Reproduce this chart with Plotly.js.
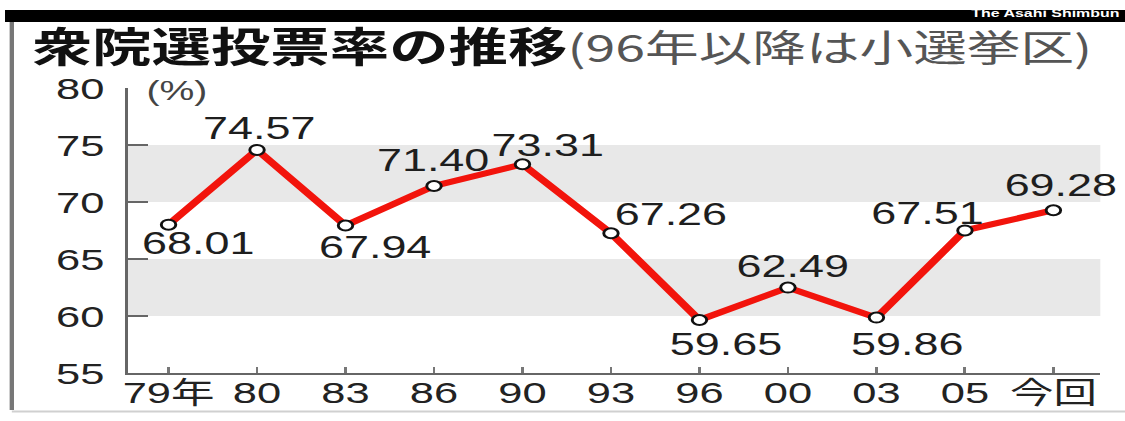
<!DOCTYPE html>
<html>
<head>
<meta charset="utf-8">
<script src="https://cdn.plot.ly/plotly-3.0.1.min.js"></script>
<style>
  html, body { margin: 0; padding: 0; background: #fff; overflow: hidden; }
  #chart { width: 776px; height: 421px; transform: scaleX(1.4497); transform-origin: 0 0; }
</style>
</head>
<body>
<div id="chart"></div>
<script>
// Data
const categories = ['79年', '80', '83', '86', '90', '93', '96', '00', '03', '05', '今回'];
const turnout = [68.01, 74.57, 67.94, 71.40, 73.31, 67.26, 59.65, 62.49, 59.86, 67.51, 69.28];
const yTicks = [55, 60, 65, 70, 75, 80];
const bands = [[60, 65], [70, 75]];
const titleMain = '衆院選投票率の推移';
const titleSub = '(96年以降は小選挙区)';
const unitLabel = '(%)';
const credit = 'The Asahi Shimbun';

// Label placement (style, not data): [xshift, yshift]
const labelOffsets = [[21, -19], [2, 21], [21, -22], [0, 26], [18, 19], [42, 19],
                      [19, -25], [3, 21], [21, -27], [-26, 17], [5, 25]];

const numFont = 'Liberation Sans, Arial, sans-serif';
const jpFont = 'Noto Sans CJK JP, sans-serif';

const trace = {
  type: 'scatter',
  mode: 'lines+markers',
  x: categories,
  y: turnout,
  line: { color: '#f2140c', width: 6 },
  marker: { size: 10, color: '#ffffff', line: { color: '#111', width: 2 } },
  hoverinfo: 'skip',
  cliponaxis: false
};

// category axis: annotations positioned by category index
const annotations = turnout.map((v, i) => ({
  x: i, y: v, xref: 'x', yref: 'y',
  text: v.toFixed(2), showarrow: false,
  xanchor: 'center', yanchor: 'middle',
  xshift: labelOffsets[i][0], yshift: labelOffsets[i][1],
  font: { family: numFont, size: 31, color: '#1e1e1e' }
}));

annotations.push({
  x: 0.016, xref: 'paper', y: 80, yref: 'y', text: unitLabel, showarrow: false,
  xanchor: 'left', yanchor: 'middle', yshift: -3,
  font: { family: numFont, size: 27, color: '#444' }
});

annotations.push({
  x: 1.022, xref: 'paper', y: 1.262, yref: 'paper', text: '<b>' + credit + '</b>', showarrow: false,
  xanchor: 'right', yanchor: 'middle', borderpad: 0,
  font: { family: numFont, size: 11, color: '#ffffff' }
});

const shapes = bands.map(b => ({
  type: 'rect', xref: 'paper', yref: 'y', x0: 0, x1: 1, y0: b[0], y1: b[1],
  fillcolor: '#e8e8e8', line: { width: 0 }, layer: 'below'
}));

// header black bar
shapes.push({
  type: 'rect', xref: 'paper', yref: 'paper', x0: -0.126, x1: 1.03, y0: 1.232, y1: 1.274,
  fillcolor: '#000', line: { width: 0 }, layer: 'below'
});
// left frame line
shapes.push({
  type: 'line', xref: 'paper', yref: 'paper', x0: -0.119, x1: -0.119, y0: 1.232, y1: -0.13,
  line: { color: '#777', width: 3 }
});
// bottom frame line
shapes.push({
  type: 'line', xref: 'paper', yref: 'paper', x0: -0.119, x1: 1.03, y0: -0.135, y1: -0.135,
  line: { color: '#d0d0d0', width: 2 }
});

const layout = {
  width: 776, height: 421,
  margin: { l: 88, r: 17, t: 88, b: 48 },
  paper_bgcolor: '#fff', plot_bgcolor: 'rgba(0,0,0,0)',
  showlegend: false,
  title: {
    text: '<b>' + titleMain + '</b><span style="font-size:37px;color:#555;font-weight:normal">' + titleSub + '</span>',
    font: { family: jpFont, size: 41, color: '#111' },
    xref: 'container', yref: 'container', x: 0.029, xanchor: 'left', y: 0.887, yanchor: 'middle'
  },
  xaxis: {
    type: 'category', range: [-0.463, 10.53],
    showline: true, linecolor: '#666', linewidth: 2,
    ticks: 'inside', ticklen: 6, tickwidth: 2, tickcolor: '#777',
    ticklabelstandoff: -8,
    showgrid: false, zeroline: false, fixedrange: true,
    tickfont: { family: numFont + ', ' + jpFont, size: 30, color: '#222' }
  },
  yaxis: {
    range: [55, 80], tickvals: yTicks, ticktext: yTicks.map(String),
    showline: true, linecolor: '#666', linewidth: 2,
    ticks: 'inside', ticklen: 14, tickwidth: 2, tickcolor: '#666',
    ticklabelstandoff: 8,
    showgrid: false, zeroline: false, fixedrange: true,
    tickfont: { family: numFont, size: 30, color: '#222' }
  },
  shapes: shapes,
  annotations: annotations
};

Plotly.newPlot('chart', [trace], layout, { displayModeBar: false, staticPlot: true });
</script>
</body>
</html>
